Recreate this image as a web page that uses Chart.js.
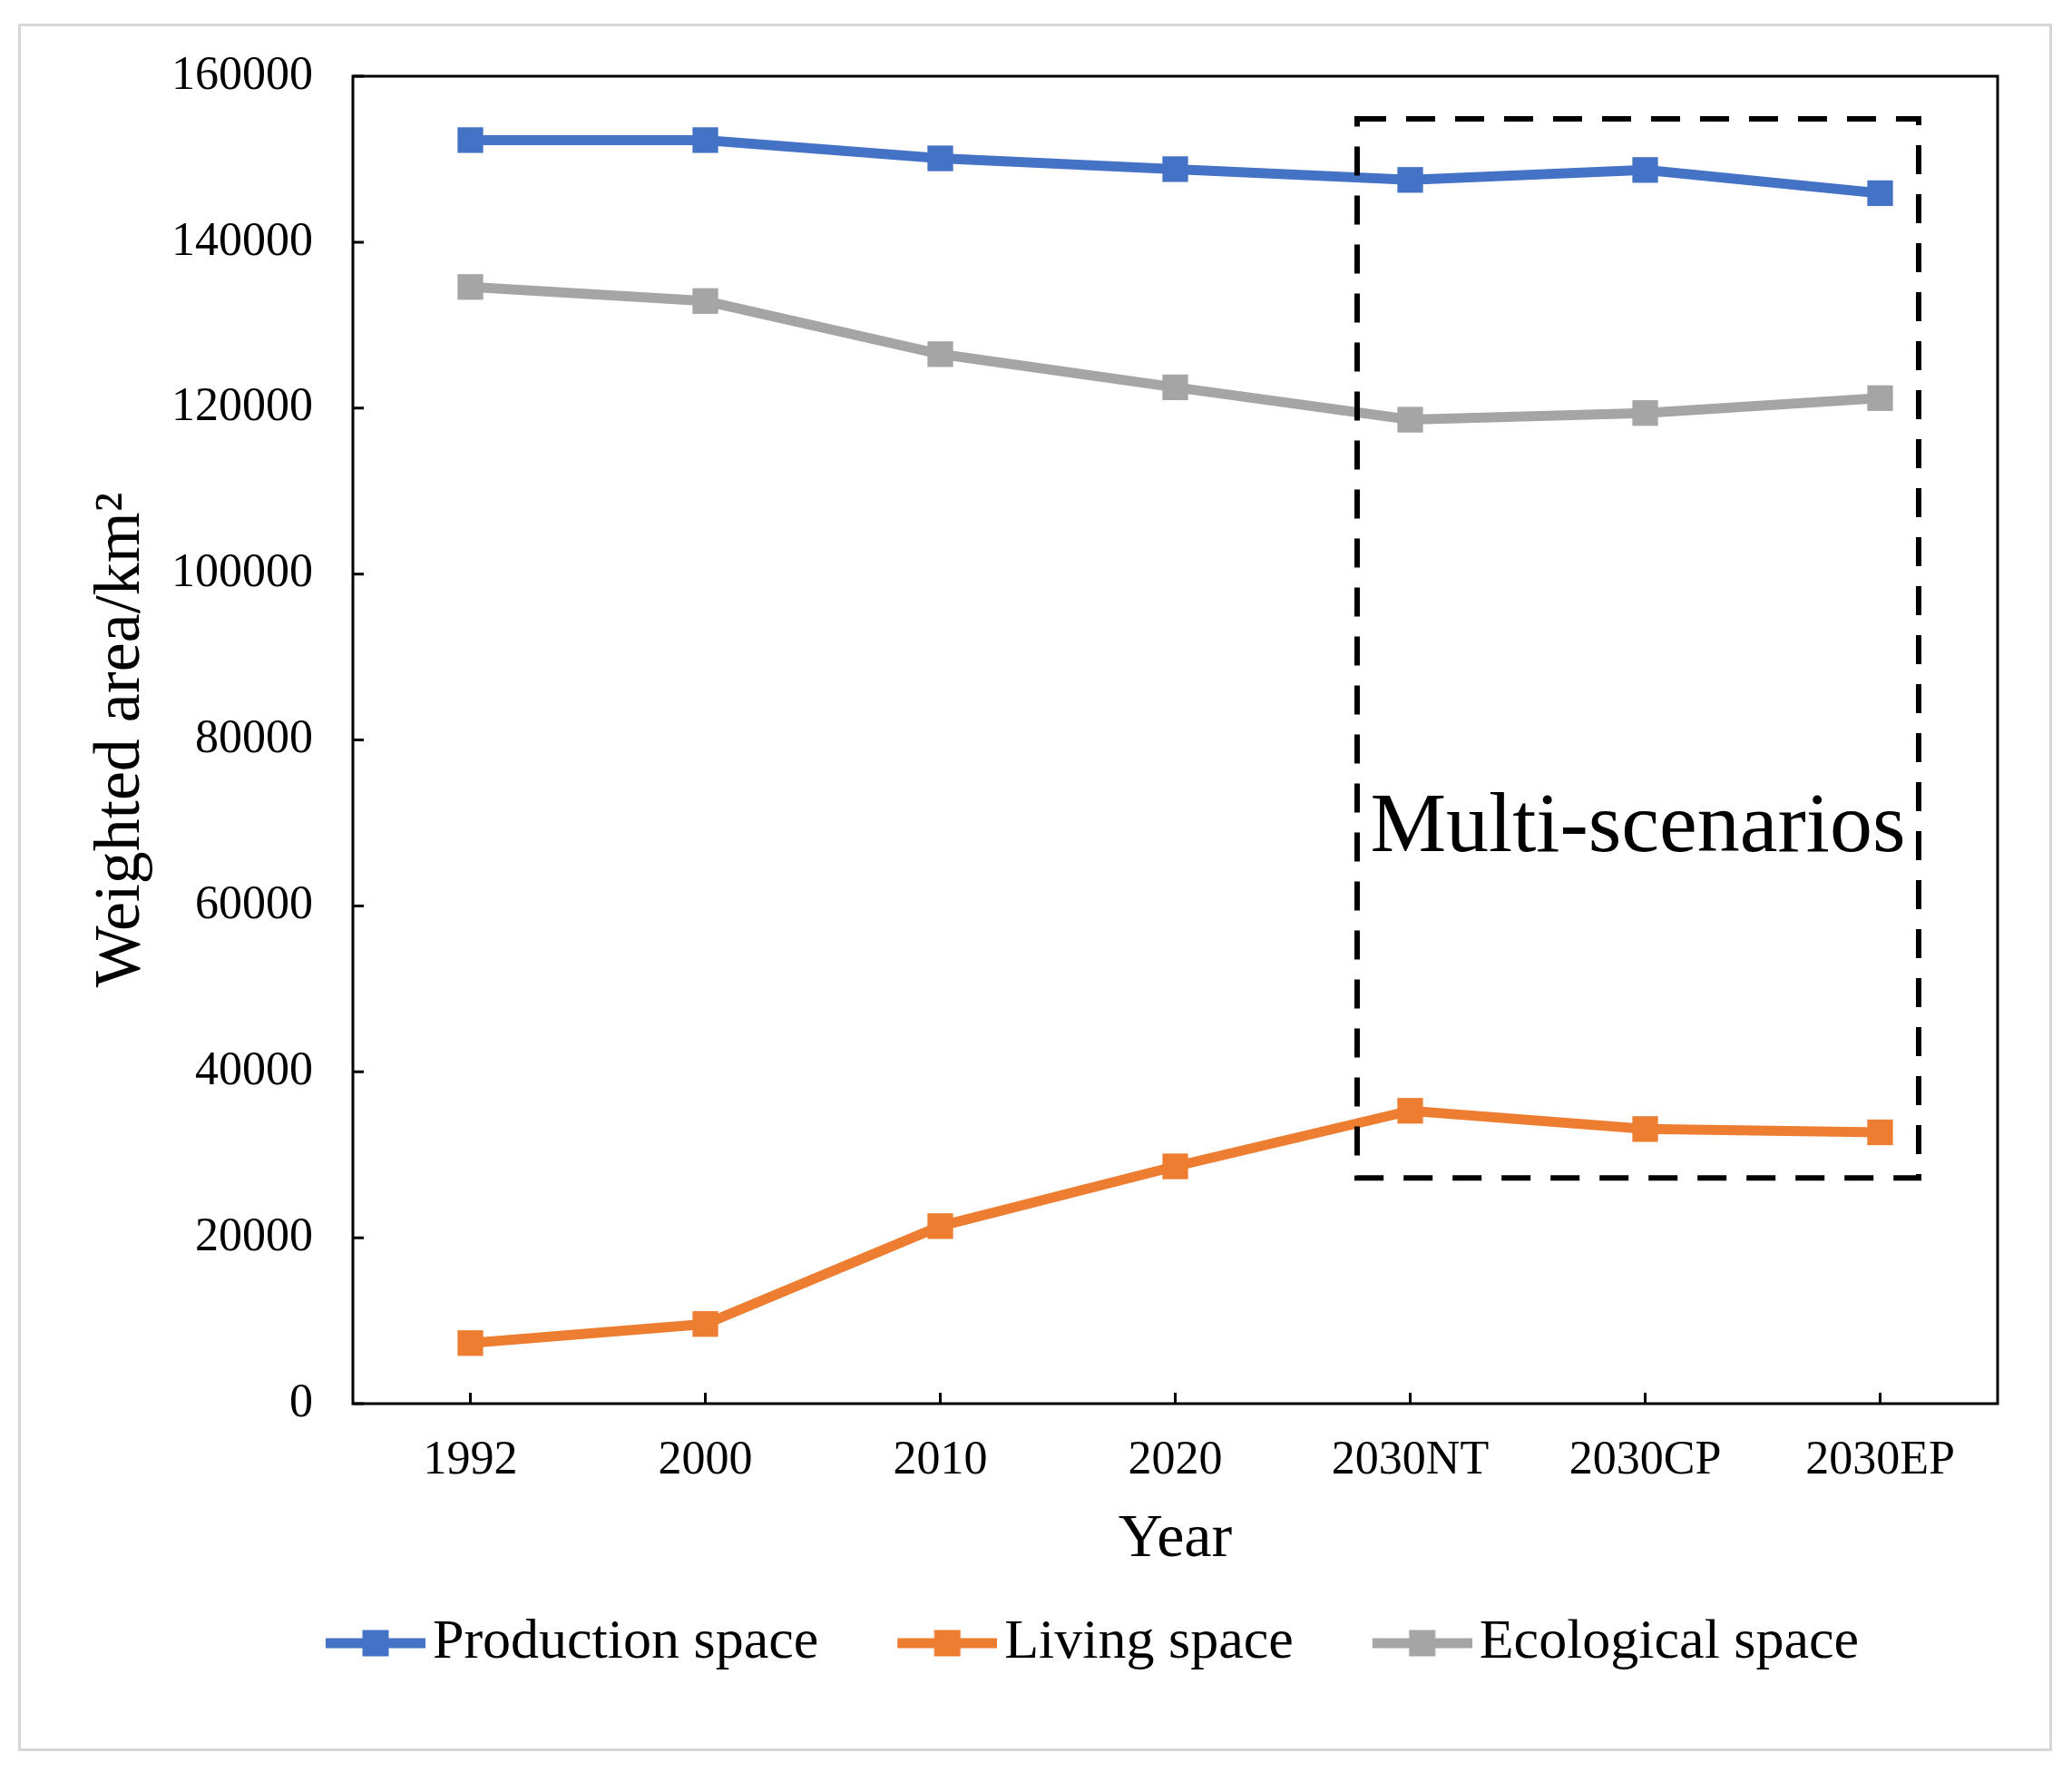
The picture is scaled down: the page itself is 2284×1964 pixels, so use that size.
<!DOCTYPE html>
<html>
<head>
<meta charset="utf-8">
<script src="https://cdn.jsdelivr.net/npm/chart.js@4.4.1/dist/chart.umd.min.js"></script>
<style>
  html, body { margin: 0; padding: 0; background: #fff; }
  #frame { position: absolute; left: 20px; top: 26px; width: 2236px; height: 1898px; border: 3px solid #d6d6d6; }
  canvas { display: block; }
</style>
</head>
<body>
<div id="frame"><canvas id="chart" width="2236" height="1898"></canvas></div>
<script>
const years = ['1992', '2000', '2010', '2020', '2030NT', '2030CP', '2030EP'];
const productionSpace = [152300, 152300, 150100, 148800, 147500, 148700, 145900];
const livingSpace = [7300, 9600, 21400, 28600, 35300, 33100, 32700];
const ecologicalSpace = [134600, 132900, 126500, 122500, 118600, 119400, 121200];
const yTicks = [0, 20000, 40000, 60000, 80000, 100000, 120000, 140000, 160000];

// dashed "multi-scenarios" box, in category index / value units
const scenarioX = [3.774, 6.164];
const scenarioY = [27200, 154850];
const scenarioText = 'Multi-scenarios';
const scenarioTextY = 66600;

const serif = '"Liberation Serif", "Times New Roman", serif';
const colors = ['#4472C4', '#ED7D31', '#A5A5A5'];

// legend icons: short line with a square marker
function makeIcon(color) {
    const c = document.createElement('canvas');
    c.width = 200;
    c.height = 40;
    const g = c.getContext('2d');
    g.strokeStyle = color;
    g.lineWidth = 11;
    g.beginPath();
    g.moveTo(90, 20);
    g.lineTo(200, 20);
    g.stroke();
    g.fillStyle = color;
    g.fillRect(145 - 14.5, 20 - 14.5, 29, 29);
    return c;
}
const legendIcons = colors.map(makeIcon);

const framePlugin = {
    id: 'frameAndBox',
    afterDatasetsDraw(chart) {
        const { ctx, chartArea: a, scales: { x, y } } = chart;
        ctx.save();
        ctx.strokeStyle = '#000';
        ctx.lineWidth = 3;
        ctx.strokeRect(a.left, a.top, a.right - a.left, a.bottom - a.top);

        // inward tick marks
        ctx.beginPath();
        y.ticks.forEach((t, i) => {
            const py = y.getPixelForTick(i);
            ctx.moveTo(a.left, py);
            ctx.lineTo(a.left + 12, py);
        });
        x.ticks.forEach((t, i) => {
            const px = x.getPixelForTick(i);
            ctx.moveTo(px, a.bottom);
            ctx.lineTo(px, a.bottom - 12);
        });
        ctx.stroke();

        // scenario box
        const x0 = x.getPixelForValue(scenarioX[0]);
        const x1 = x.getPixelForValue(scenarioX[1]);
        const y0 = y.getPixelForValue(scenarioY[1]);
        const y1 = y.getPixelForValue(scenarioY[0]);
        ctx.lineWidth = 6;
        ctx.setLineDash([32, 22]);
        ctx.strokeRect(x0, y0, x1 - x0, y1 - y0);
        ctx.setLineDash([]);

        ctx.fillStyle = '#000';
        ctx.font = '94px ' + serif;
        ctx.textAlign = 'center';
        ctx.textBaseline = 'alphabetic';
        ctx.fillText(scenarioText, (x0 + x1) / 2, y.getPixelForValue(scenarioTextY));
        ctx.restore();
    }
};

function series(label, data, color) {
    return {
        label: label,
        data: data,
        borderColor: color,
        backgroundColor: color,
        borderWidth: 11,
        pointStyle: 'rect',
        pointRadius: 20,
        pointBackgroundColor: color,
        pointBorderColor: color,
        pointBorderWidth: 0,
        tension: 0,
        fill: false
    };
}

new Chart(document.getElementById('chart'), {
    type: 'line',
    data: {
        labels: years,
        datasets: [
            series('Production space', productionSpace, colors[0]),
            series('Living space', livingSpace, colors[1]),
            series('Ecological space', ecologicalSpace, colors[2])
        ]
    },
    options: {
        responsive: false,
        animation: false,
        layout: { padding: { left: 116, top: 55, right: 57, bottom: 75 } },
        scales: {
            x: {
                offset: true,
                grid: { display: false, drawTicks: true, tickLength: 32 },
                border: { display: false },
                ticks: { color: '#000', font: { family: serif, size: 52 }, padding: 0, maxRotation: 0, autoSkip: false },
                title: { display: true, text: 'Year', color: '#000', font: { family: serif, size: 68 }, padding: { top: 0, bottom: 22 } },
                afterFit: s => { s.height = 213; }
            },
            y: {
                min: 0,
                max: 160000,
                grid: { display: false, drawTicks: true, tickLength: 44 },
                border: { display: false },
                afterBuildTicks: s => { s.ticks = yTicks.map(v => ({ value: v })); },
                ticks: { color: '#000', font: { family: serif, size: 52 }, padding: 0, callback: v => String(v) },
                title: { display: true, text: 'Weighted area/km²', color: '#000', font: { family: serif, size: 72 }, padding: { top: -48, bottom: 0 } },
                afterFit: s => { s.width = 250; }
            }
        },
        plugins: {
            legend: {
                position: 'bottom',
                labels: {
                    usePointStyle: true,
                    pointStyleWidth: 154,
                    padding: 20,
                    color: '#000',
                    font: { family: serif, size: 62 },
                    generateLabels: chart => Chart.defaults.plugins.legend.labels.generateLabels(chart)
                        .map((item, i) => ({ ...item, pointStyle: legendIcons[i] }))
                }
            },
            tooltip: { enabled: false }
        }
    },
    plugins: [framePlugin]
});
</script>
</body>
</html>
